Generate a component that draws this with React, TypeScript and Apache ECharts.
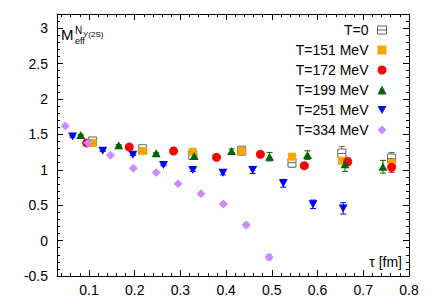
import React, { useEffect, useRef } from "react";
import * as echarts from "echarts";

const FONT = "Liberation Sans";

const tau0 = [0.108, 0.2175, 0.327, 0.434, 0.544, 0.653, 0.762];
const m0 = [1.40, 1.29, 1.21, 1.27, 1.10, 1.23, 1.16];
const e0 = [0.02, 0.03, 0.04, 0.04, 0.06, 0.10, 0.085];

const tau151 = [0.108, 0.2175, 0.327, 0.434, 0.544, 0.653, 0.762];
const m151 = [1.38, 1.265, 1.255, 1.265, 1.185, 1.128, 1.10];
const e151 = [0.01, 0.01, 0.015, 0.02, 0.03, 0.04, 0.05];

const tau172 = [0.095, 0.188, 0.285, 0.379, 0.475, 0.571, 0.666, 0.762];
const m172 = [1.38, 1.32, 1.265, 1.176, 1.218, 1.058, 1.114, 1.035];
const e172 = [0.01, 0.01, 0.01, 0.015, 0.02, 0.03, 0.05, 0.07];

const tau199 = [0.082, 0.165, 0.247, 0.33, 0.412, 0.495, 0.578, 0.66, 0.743];
const m199 = [1.49, 1.345, 1.232, 1.194, 1.265, 1.185, 1.208, 1.077, 1.043];
const e199 = [0.01, 0.01, 0.01, 0.02, 0.03, 0.06, 0.06, 0.1, 0.09];

const tau251 = [0.064, 0.13, 0.196, 0.263, 0.327, 0.393, 0.458, 0.525, 0.59, 0.656];
const m251 = [1.47, 1.27, 1.213, 1.067, 0.997, 0.958, 0.997, 0.809, 0.512, 0.455];
const e251 = [0.01, 0.01, 0.01, 0.01, 0.02, 0.03, 0.05, 0.055, 0.06, 0.08];

const tau334 = [0.048, 0.098, 0.147, 0.197, 0.247, 0.295, 0.345, 0.394, 0.444, 0.494];
const m334 = [1.62, 1.38, 1.204, 1.02, 0.96, 0.803, 0.662, 0.516, 0.22, -0.236];
const e334 = [0.01, 0.01, 0.01, 0.01, 0.01, 0.015, 0.02, 0.02, 0.03, 0.04];

const xMajor = [0.1, 0.2, 0.3, 0.4, 0.5, 0.6, 0.7, 0.8];
const xMinor = [0.04, 0.06, 0.08, 0.12, 0.14, 0.16, 0.18, 0.22, 0.24, 0.26, 0.28, 0.32, 0.34, 0.36, 0.38, 0.42, 0.44, 0.46, 0.48, 0.52, 0.54, 0.56, 0.58, 0.62, 0.64, 0.66, 0.68, 0.72, 0.74, 0.76, 0.78];
const yMajor = [-0.5, 0, 0.5, 1, 1.5, 2, 2.5, 3];
const yMinor = [-0.4, -0.3, -0.2, -0.1, 0.1, 0.2, 0.3, 0.4, 0.6, 0.7, 0.8, 0.9, 1.1, 1.2, 1.3, 1.4, 1.6, 1.7, 1.8, 1.9, 2.1, 2.2, 2.3, 2.4, 2.6, 2.7, 2.8, 2.9, 3.1];

const names = ["T=0", "T=151 MeV", "T=172 MeV", "T=199 MeV", "T=251 MeV", "T=334 MeV"];
const colors = ["#666666", "#FFA500", "#FF0000", "#006400", "#0000FF", "#C88CFF"];

const DOWN_TRI = "path://M0,0L10,0L5,9Z";
const BOX_ICON = "path://M0,0L10,0L10,9L0,9ZM0,4.5L10,4.5";

function zip(t: number[], m: number[], e: number[]) {
  return t.map((x, i) => [x, m[i], e[i]]);
}

function errRender(color: string) {
  return (params: any, api: any) => {
    const x = api.value(0), y = api.value(1), e = api.value(2);
    const top = api.coord([x, y + e]);
    const bot = api.coord([x, y - e]);
    const cx = top[0];
    const cap = 3;
    const st = { stroke: color, lineWidth: 1 };
    return {
      type: "group",
      children: [
        { type: "line", shape: { x1: cx, y1: top[1], x2: cx, y2: bot[1] }, style: st },
        { type: "line", shape: { x1: cx - cap, y1: top[1], x2: cx + cap, y2: top[1] }, style: st },
        { type: "line", shape: { x1: cx - cap, y1: bot[1], x2: cx + cap, y2: bot[1] }, style: st },
      ],
    };
  };
}

function boxRender(color: string) {
  return (params: any, api: any) => {
    const x = api.value(0), y = api.value(1), e = api.value(2);
    const p = api.coord([x, y]);
    const top = api.coord([x, y + e]);
    const bot = api.coord([x, y - e]);
    const st = { stroke: color, lineWidth: 1, fill: "none" };
    const cap = 3;
    return {
      type: "group",
      children: [
        { type: "line", shape: { x1: p[0], y1: top[1], x2: p[0], y2: bot[1] }, style: st },
        { type: "line", shape: { x1: p[0] - cap, y1: top[1], x2: p[0] + cap, y2: top[1] }, style: st },
        { type: "line", shape: { x1: p[0] - cap, y1: bot[1], x2: p[0] + cap, y2: bot[1] }, style: st },
        { type: "rect", shape: { x: p[0] - 4, y: p[1] - 4.5, width: 8, height: 9 }, style: { stroke: color, lineWidth: 1, fill: "#fff", opacity: 1 } },
        { type: "line", shape: { x1: p[0] - 4, y1: p[1], x2: p[0] + 4, y2: p[1] }, style: st },
      ],
    };
  };
}

function makeOption() {
  const lineStyle = { color: "#000", width: 1 };
  const baseX = (pos: string, ticks: number[], len: number, showLine: boolean, showLabel: boolean) => ({
    type: "value",
    position: pos,
    min: 0.03,
    max: 0.8,
    axisLine: { show: showLine, onZero: false, lineStyle },
    axisTick: { show: true, inside: true, length: len, customValues: ticks, lineStyle },
    axisLabel: showLabel
      ? { show: true, customValues: ticks, fontFamily: FONT, fontSize: 14, color: "#000", margin: 7, formatter: (v: number) => v.toFixed(1) }
      : { show: false },
    splitLine: { show: false },
    minorTick: { show: false },
  });
  const baseY = (pos: string, ticks: number[], len: number, showLine: boolean, showLabel: boolean) => ({
    type: "value",
    position: pos,
    min: -0.5,
    max: 3.2,
    axisLine: { show: showLine, onZero: false, lineStyle },
    axisTick: { show: true, inside: true, length: len, customValues: ticks, lineStyle },
    axisLabel: showLabel
      ? { show: true, customValues: ticks, fontFamily: FONT, fontSize: 14, color: "#000", margin: 9, formatter: (v: number) => (Number.isInteger(v) ? String(v) : v.toFixed(1)) }
      : { show: false },
    splitLine: { show: false },
    minorTick: { show: false },
  });

  const scatter = (name: string, data: number[][], color: string, symbol: string, size: number | number[]) => ({
    type: "scatter",
    name,
    data,
    symbol,
    symbolSize: size,
    itemStyle: { color, opacity: 1 },
    encode: { x: 0, y: 1 },
    z: 3,
  });
  const errs = (name: string, data: number[][], color: string) => ({
    type: "custom",
    name: name + "_err",
    data,
    renderItem: errRender(color),
    encode: { x: 0, y: 1 },
    clip: true,
    z: 2,
  });

  const d0 = zip(tau0, m0, e0);
  const d151 = zip(tau151, m151, e151);
  const d172 = zip(tau172, m172, e172);
  const d199 = zip(tau199, m199, e199);
  const d251 = zip(tau251, m251, e251);
  const d334 = zip(tau334, m334, e334);

  return {
    animation: false,
    backgroundColor: "#fff",
    grid: { left: 57, right: 27, top: 14, bottom: 29, containLabel: false },
    xAxis: [
      baseX("bottom", xMajor, 6, true, true),
      baseX("bottom", xMinor, 3, false, false),
      baseX("top", xMajor, 6, true, false),
      baseX("top", xMinor, 3, false, false),
    ],
    yAxis: [
      baseY("left", yMajor, 6, true, true),
      baseY("left", yMinor, 3, false, false),
      baseY("right", yMajor, 6, true, false),
      baseY("right", yMinor, 3, false, false),
    ],
    legend: {
      orient: "vertical",
      right: 44,
      top: 18,
      align: "right",
      itemGap: 6,
      itemWidth: 9,
      itemHeight: 9,
      selectedMode: false,
      textStyle: { fontFamily: FONT, fontSize: 14, color: "#000", padding: [0, 4, 0, 0] },
      data: [
        { name: names[0], icon: BOX_ICON, itemStyle: { color: "#fff", borderColor: colors[0], borderWidth: 1 } },
        { name: names[1], icon: "rect" },
        { name: names[2], icon: "circle" },
        { name: names[3], icon: "triangle" },
        { name: names[4], icon: DOWN_TRI },
        { name: names[5], icon: "diamond" },
      ],
    },
    graphic: [
      { type: "text", left: 61, top: 27, style: { text: "M", fontFamily: FONT, fontSize: 15, fill: "#000" } },
      { type: "text", left: 75, top: 36, style: { text: "eff", fontFamily: FONT, fontSize: 9, fill: "#000" } },
      { type: "text", left: 75, top: 25, style: { text: "N", fontFamily: FONT, fontSize: 10, fill: "#000" } },
      { type: "text", left: 83, top: 30, style: { text: "Υ(2S)", fontFamily: FONT, fontSize: 8, fill: "#000" } },
      { type: "text", right: 34, top: 255, style: { text: "τ [fm]", fontFamily: FONT, fontSize: 14, fill: "#000" } },
    ],
    series: [
      errs(names[1], d151, colors[1]),
      errs(names[2], d172, colors[2]),
      errs(names[3], d199, colors[3]),
      errs(names[4], d251, colors[4]),
      errs(names[5], d334, colors[5]),
      {
        type: "custom",
        name: names[0],
        data: d0,
        renderItem: boxRender(colors[0]),
        encode: { x: 0, y: 1 },
        itemStyle: { color: colors[0] },
        clip: true,
        z: 2,
      },
      scatter(names[1], d151, colors[1], "rect", 8),
      scatter(names[2], d172, colors[2], "circle", 9),
      scatter(names[3], d199, colors[3], "triangle", [9, 8]),
      scatter(names[4], d251, colors[4], DOWN_TRI, [9, 8]),
      scatter(names[5], d334, colors[5], "diamond", 9),
    ],
  };
}

export default function App() {
  const ref = useRef<HTMLDivElement>(null);
  useEffect(() => {
    if (!ref.current) return;
    const chart = echarts.init(ref.current, null, { renderer: "svg" });
    chart.setOption(makeOption() as any);
    return () => chart.dispose();
  }, []);
  return <div ref={ref} style={{ width: 436, height: 305, position: "absolute", left: 0, top: 0 }} />;
}
